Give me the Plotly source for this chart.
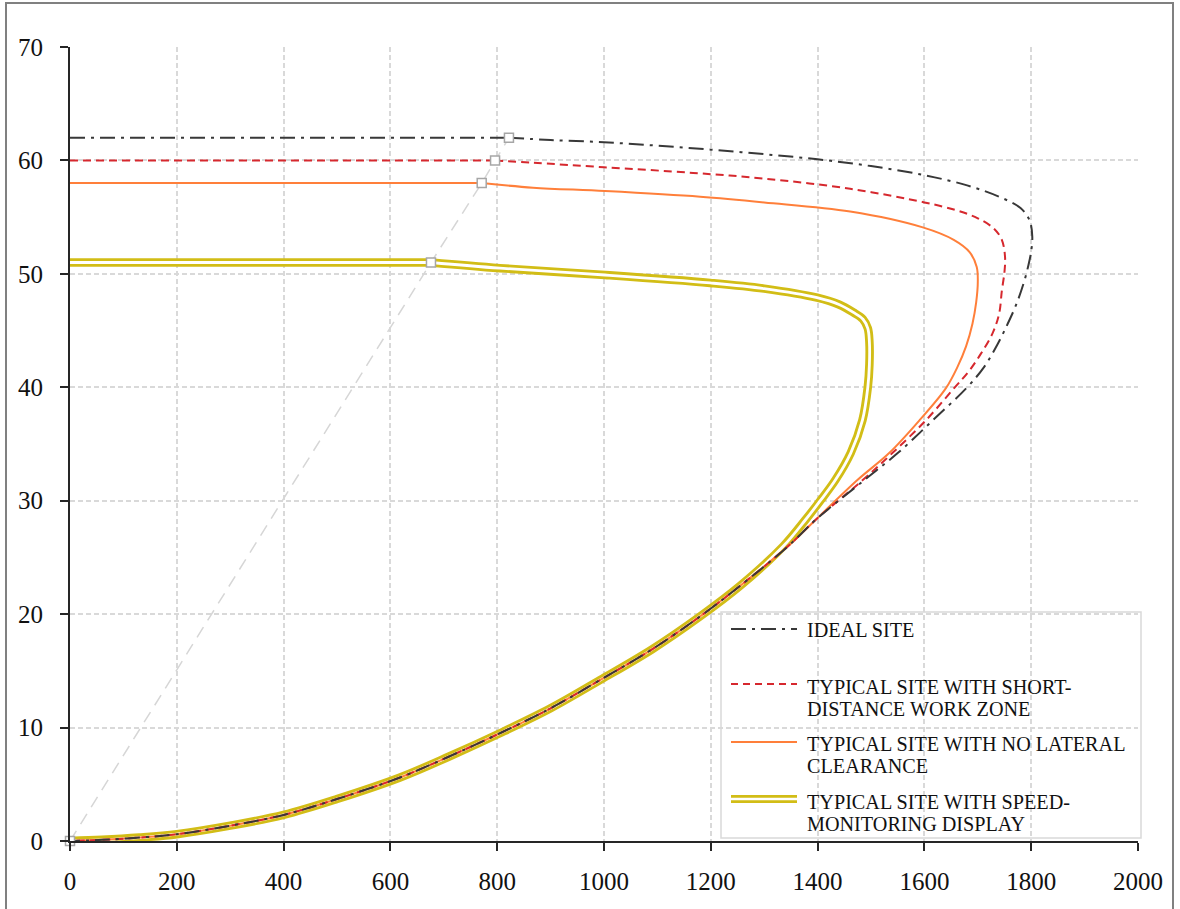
import plotly.graph_objects as go

# ---------------- data ----------------
# shared congested (lower) branch: flow, speed
LOWER_FLOW = [1396, 1345, 1255, 1180, 1090, 993, 900, 805, 710, 618, 500, 400, 300, 200, 130, 60, 0]
LOWER_SPEED = [28.3, 26.0, 22.5, 19.8, 16.9, 14.2, 11.7, 9.5, 7.45, 5.6, 3.7, 2.3, 1.35, 0.6, 0.3, 0.1, 0.0]

IDEAL_FLOW = [0, 822, 900, 1000, 1100, 1200, 1300, 1400, 1500, 1600, 1680, 1740, 1780, 1797, 1802,
              1800, 1795, 1786, 1772, 1756, 1737, 1712, 1680, 1616, 1550, 1487]
IDEAL_SPEED = [62, 62, 61.8, 61.6, 61.3, 60.95, 60.55, 60.1, 59.5, 58.7, 57.8, 56.8, 55.8, 54.7, 53.3,
               52.0, 50.8, 49.2, 47.3, 45.6, 43.8, 41.8, 40.0, 37.1, 34.2, 31.8]

SHORT_FLOW = [0, 796, 867, 1000, 1167, 1300, 1461, 1600, 1660, 1700, 1730, 1745, 1751, 1750, 1745,
              1740, 1728, 1705, 1683, 1657, 1603, 1540, 1484]
SHORT_SPEED = [60, 60, 59.8, 59.4, 58.9, 58.4, 57.5, 56.3, 55.6, 54.9, 54.0, 53.0, 51.5, 50.2, 48.5,
               46.5, 44.8, 42.9, 41.4, 40.0, 37.1, 34.2, 31.8]

NOLAT_FLOW = [0, 771, 867, 1002, 1180, 1300, 1461, 1597, 1655, 1685, 1698, 1700, 1697, 1690, 1678,
              1662, 1640, 1591, 1534, 1474]
NOLAT_SPEED = [58, 58, 57.6, 57.3, 56.8, 56.3, 55.5, 54.1, 53.0, 51.9, 50.6, 49.3, 47.5, 45.6, 43.6,
               41.8, 39.9, 37.1, 34.2, 31.8]

# speed-monitoring display: its own approach to the lower branch, then the shared branch from 1255 down
SMD_FLOW = [0, 676, 805, 1002, 1199, 1300, 1399, 1440, 1467, 1485, 1494, 1497, 1497, 1494, 1484,
            1462, 1433, 1405, 1377, 1336]
SMD_SPEED = [51, 51, 50.5, 49.9, 49.2, 48.7, 47.9, 47.3, 46.6, 46.0, 45.2, 44.0, 42.0, 40.0, 37.1,
             34.2, 31.8, 30.0, 28.3, 26.0]
SMD_JOIN = 2  # index in the shared branch where this curve rejoins it

CRIT_FLOW = [0, 676, 771, 796, 822]
CRIT_SPEED = [0, 51, 58, 60, 62]

X_TICKS = [0, 200, 400, 600, 800, 1000, 1200, 1400, 1600, 1800, 2000]
Y_TICKS = [0, 10, 20, 30, 40, 50, 60, 70]

LEGEND_LINES = [
    ["IDEAL SITE"],
    ["TYPICAL SITE WITH SHORT-", "DISTANCE WORK ZONE"],
    ["TYPICAL SITE WITH NO LATERAL", "CLEARANCE"],
    ["TYPICAL SITE WITH SPEED-", "MONITORING DISPLAY"],
]

# ---------------- styling ----------------
BLACK = "#383838"
RED = "#d6282e"
ORANGE = "#ff7f3a"
YELLOW = "#d2bd16"
SERIF = "Liberation Serif"

W, H = 1180, 909
L, R, T, B = 70, 42, 47, 68
PW, PH = W - L - R, H - T - B


def px_x(p):
    return (p - L) / PW


def px_y(p):
    return (H - B - p) / PH


fig = go.Figure()


def add_series(xs, ys, line):
    """Straight free-flow part (first two points) + smooth curve from the marker onwards."""
    fig.add_trace(go.Scatter(x=xs[:2], y=ys[:2], mode="lines", line=dict(**line),
                             cliponaxis=False, hoverinfo="skip", showlegend=False))
    fig.add_trace(go.Scatter(x=xs[1:], y=ys[1:], mode="lines", line_shape="spline",
                             line=dict(smoothing=1.0, **line),
                             cliponaxis=False, hoverinfo="skip", showlegend=False))


smd_x = SMD_FLOW + LOWER_FLOW[SMD_JOIN:]
smd_y = SMD_SPEED + LOWER_SPEED[SMD_JOIN:]
add_series(smd_x, smd_y, dict(color=YELLOW, width=8.5))
add_series(smd_x, smd_y, dict(color="white", width=2.8))
add_series(NOLAT_FLOW + LOWER_FLOW, NOLAT_SPEED + LOWER_SPEED, dict(color=ORANGE, width=2))
add_series(SHORT_FLOW + LOWER_FLOW, SHORT_SPEED + LOWER_SPEED, dict(color=RED, width=2, dash="8px,5px"))
add_series(IDEAL_FLOW + LOWER_FLOW, IDEAL_SPEED + LOWER_SPEED,
           dict(color=BLACK, width=2, dash="15px,6px,3px,6px"))

fig.add_trace(go.Scatter(x=CRIT_FLOW, y=CRIT_SPEED, mode="lines+markers", cliponaxis=False,
                         hoverinfo="skip", showlegend=False,
                         line=dict(color="#d6d6d6", width=1.5, dash="12px,8px"),
                         marker=dict(symbol="square", size=9, color="white",
                                     line=dict(color="#a6a6a6", width=1.5))))

shapes = []
# outer frame
shapes.append(dict(type="rect", xref="paper", yref="paper",
                   x0=px_x(6), x1=px_x(1173), y0=px_y(915), y1=px_y(3),
                   line=dict(color="#808080", width=2), fillcolor="rgba(0,0,0,0)", layer="below"))
# legend box
shapes.append(dict(type="rect", xref="paper", yref="paper",
                   x0=px_x(721), x1=px_x(1141), y0=px_y(838), y1=px_y(612),
                   line=dict(color="#d9d9d9", width=1.5), fillcolor="white", layer="between"))

sym_x0, sym_x1 = px_x(731), px_x(797)
sym_y = [629, 684, 742, 799]
sym_styles = [
    [dict(color=BLACK, width=2, dash="15px,6px,3px,6px")],
    [dict(color=RED, width=2, dash="7px,5px")],
    [dict(color=ORANGE, width=2)],
    [dict(color=YELLOW, width=8), dict(color="white", width=2.5)],
]
for yy, styles in zip(sym_y, sym_styles):
    for st in styles:
        shapes.append(dict(type="line", xref="paper", yref="paper", x0=sym_x0, x1=sym_x1,
                           y0=px_y(yy), y1=px_y(yy), line=st, layer="above"))

annotations = []
text_y = [[630], [687, 709], [744, 766], [802, 824]]
for lines, ys in zip(LEGEND_LINES, text_y):
    for txt, yy in zip(lines, ys):
        annotations.append(dict(text=txt, xref="paper", yref="paper", x=px_x(805), y=px_y(yy),
                                xanchor="left", yanchor="middle", showarrow=False,
                                font=dict(family=SERIF, size=20.2, color="#111111")))

axis_common = dict(showline=True, linecolor="#262626", linewidth=2, ticks="outside", ticklen=8,
                   tickwidth=2, tickcolor="#262626", showgrid=True, gridcolor="#d9d9d9",
                   gridwidth=1.5, griddash="5px,3px", zeroline=False,
                   tickfont=dict(family=SERIF, size=25, color="#111111"))

fig.update_layout(
    width=W, height=H, margin=dict(l=L, r=R, t=T, b=B),
    paper_bgcolor="white", plot_bgcolor="white",
    xaxis=dict(range=[0, 2000], tickvals=X_TICKS, ticktext=[str(v) for v in X_TICKS],
               ticklabelstandoff=9, **axis_common),
    yaxis=dict(range=[0, 70], tickvals=Y_TICKS, ticktext=[str(v) for v in Y_TICKS],
               ticklabelstandoff=12, **axis_common),
    shapes=shapes, annotations=annotations, showlegend=False,
)

fig.write_html("out.html")
